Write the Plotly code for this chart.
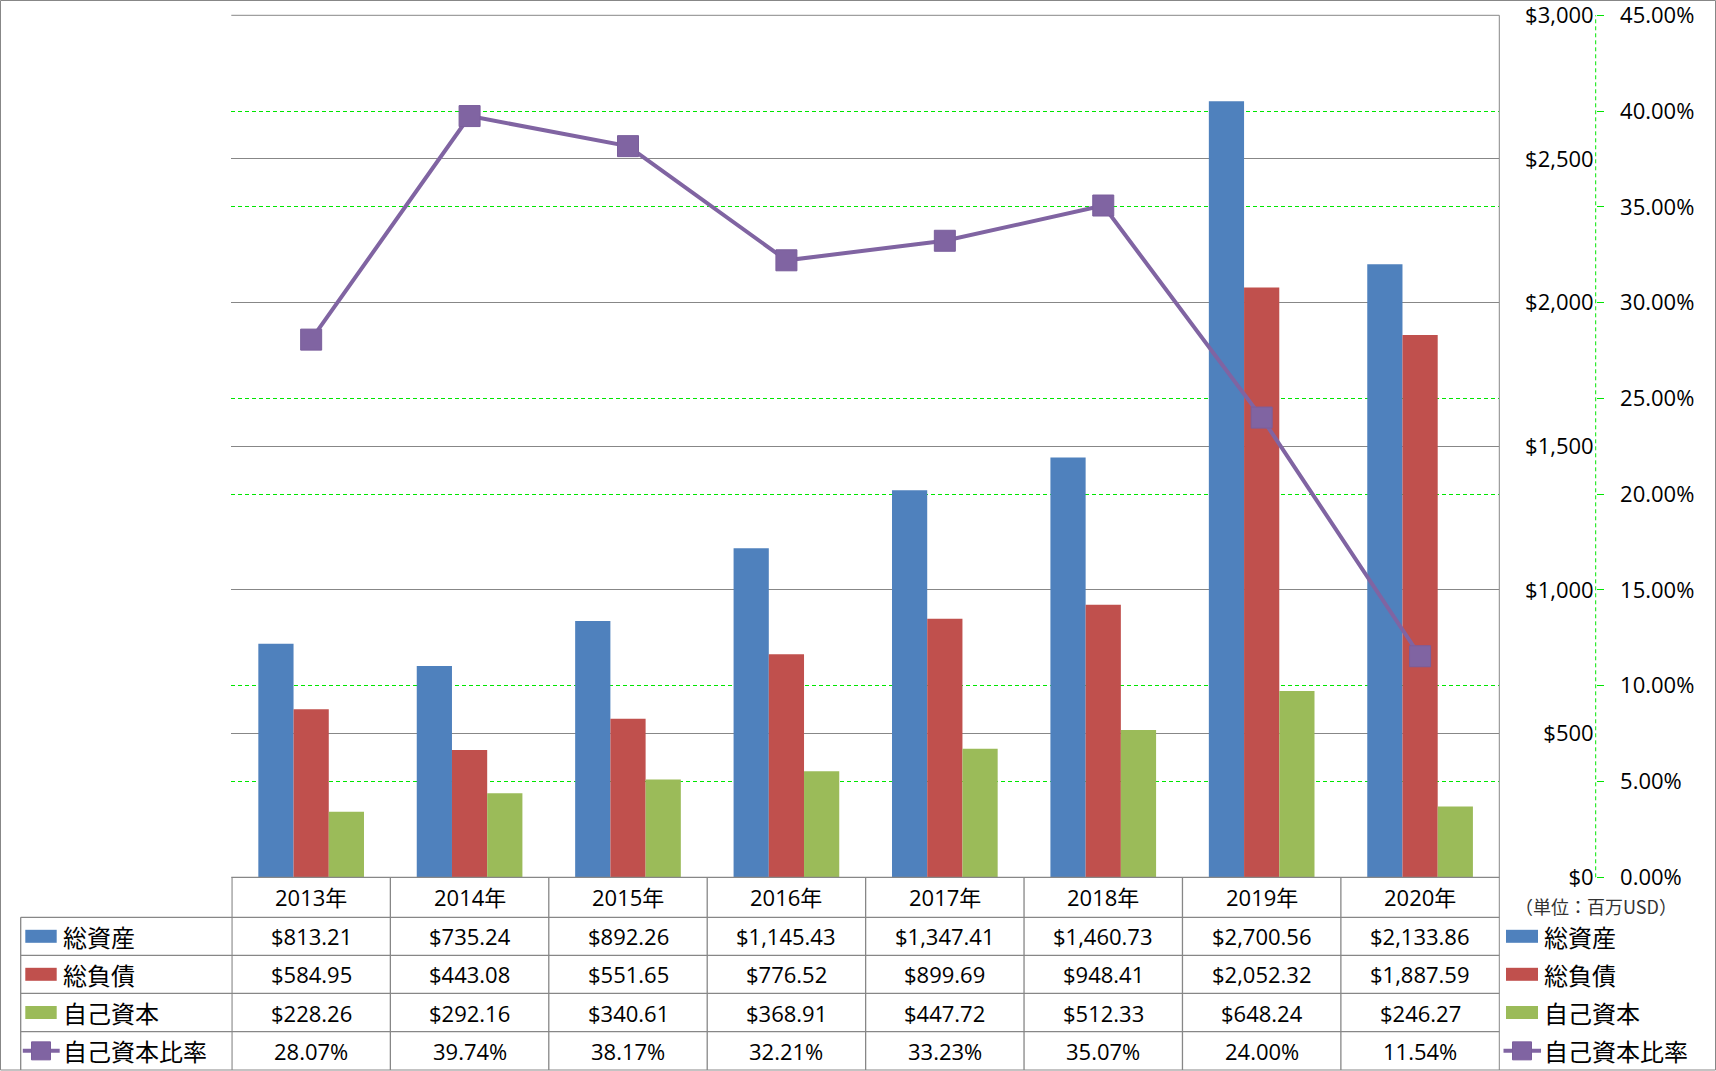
import plotly.graph_objects as go

# ---------------- data ----------------
years = ["2013年", "2014年", "2015年", "2016年", "2017年", "2018年", "2019年", "2020年"]
total_assets = [813.21, 735.24, 892.26, 1145.43, 1347.41, 1460.73, 2700.56, 2133.86]
total_liabilities = [584.95, 443.08, 551.65, 776.52, 899.69, 948.41, 2052.32, 1887.59]
equity = [228.26, 292.16, 340.61, 368.91, 447.72, 512.33, 648.24, 246.27]
equity_ratio = [28.07, 39.74, 38.17, 32.21, 33.23, 35.07, 24.00, 11.54]

name_assets = "総資産"
name_liab = "総負債"
name_equity = "自己資本"
name_ratio = "自己資本比率"
unit_note = "（単位：百万USD）"

# ---------------- style ----------------
W, H = 1716, 1071
C_BLUE, C_RED, C_GREEN, C_PURPLE = "#4F81BD", "#C0504D", "#9BBB59", "#8064A2"
GRAY = "#878787"
LIME = "#00E600"
LATIN = "Open Sans, Noto Sans CJK JP, sans-serif"
CJK = "Noto Sans CJK JP, sans-serif"


def px(x):
    return x / W


def py(y):
    return 1 - y / H


PLOT_L, PLOT_R, PLOT_T, PLOT_B = 231.3, 1499.3, 15.3, 877.3
AXIS_X = 1595.7
ROW_LINES = [877.3, 917.3, 955.3, 993.3, 1031.7, 1070.0]
row_centers = [(ROW_LINES[i] + ROW_LINES[i + 1]) / 2 for i in range(5)]
EPS = 1e-5

fig = go.Figure()

fig.add_trace(go.Bar(x=years, y=total_assets, name=name_assets, marker_color=C_BLUE,
                     marker_line_width=0, yaxis="y", showlegend=False))
fig.add_trace(go.Bar(x=years, y=total_liabilities, name=name_liab, marker_color=C_RED,
                     marker_line_width=0, yaxis="y", showlegend=False))
fig.add_trace(go.Bar(x=years, y=equity, name=name_equity, marker_color=C_GREEN,
                     marker_line_width=0, yaxis="y", showlegend=False))
fig.add_trace(go.Scatter(x=years, y=[v / 100 for v in equity_ratio], name=name_ratio,
                         mode="lines+markers", yaxis="y2", showlegend=False,
                         line=dict(color=C_PURPLE, width=4),
                         marker=dict(symbol="square", size=21, color=C_PURPLE,
                                     line=dict(color="#7A5E9C", width=1))))
# invisible helper trace so the gray-grid overlay axis is drawn above the green grid
fig.add_trace(go.Scatter(x=years[:1], y=[0], mode="markers", yaxis="y3",
                         marker=dict(opacity=0), hoverinfo="skip", showlegend=False))

fig.update_layout(
    width=W, height=H, autosize=False,
    margin=dict(l=0, r=0, t=0, b=0, pad=0, autoexpand=False),
    paper_bgcolor="white", plot_bgcolor="rgba(0,0,0,0)",
    barmode="group", bargap=0.333, bargroupgap=0,
    font=dict(family=LATIN, size=22, color="black"),
    xaxis=dict(domain=[px(PLOT_L), px(PLOT_R)], showticklabels=False, ticks="",
               showgrid=False, zeroline=False, showline=False, fixedrange=True,
               automargin=False),
    yaxis=dict(domain=[py(PLOT_B), py(PLOT_T)], range=[0, 3000 * (1 + EPS)], dtick=500,
               tickformat="$,.0f", side="left", anchor="free", position=px(AXIS_X),
               showgrid=False, zeroline=False, showline=False, ticks="",
               ticklabelstandoff=2, automargin=False, ticklabeloverflow="allow",
               tickfont=dict(family=LATIN, size=22, color="black")),
    yaxis2=dict(overlaying="y", range=[0, 0.45 * (1 + EPS)], dtick=0.05, tickformat=".2%",
                side="right", anchor="free", position=px(AXIS_X),
                showgrid=True, gridcolor=LIME, gridwidth=1, griddash="4px,3px",
                zeroline=False, showline=False, ticks="outside", ticklen=7,
                tickcolor=LIME, tickwidth=1, ticklabelstandoff=12, automargin=False,
                ticklabeloverflow="allow",
                tickfont=dict(family=LATIN, size=22, color="black")),
    yaxis3=dict(overlaying="y", range=[0, 3000 * (1 + EPS)], dtick=500, showticklabels=False,
                showgrid=True, gridcolor=GRAY, gridwidth=1, zeroline=False,
                showline=False, ticks="", anchor="x", side="left", automargin=False),
)

shapes = []
# outer chart border
shapes.append(dict(type="rect", xref="paper", yref="paper", x0=px(0.5), x1=px(W - 0.5),
                   y0=py(H - 1), y1=py(0.5), line=dict(color=GRAY, width=1)))
# top border of the plot area (top gridline)
shapes.append(dict(type="line", xref="paper", yref="y domain", x0=px(PLOT_L), x1=px(PLOT_R),
                   y0=1, y1=1, line=dict(color=GRAY, width=1), layer="below"))
# secondary (percent) axis line, dashed green
shapes.append(dict(type="line", xref="paper", yref="paper", x0=px(AXIS_X), x1=px(AXIS_X),
                   y0=py(PLOT_B), y1=py(PLOT_T), line=dict(color=LIME, width=1, dash="4px,3px")))
# plot right border extending through the table
shapes.append(dict(type="line", xref="paper", yref="paper", x0=px(PLOT_R), x1=px(PLOT_R),
                   y0=py(ROW_LINES[-1]), y1=py(PLOT_T), line=dict(color=GRAY, width=1)))
# table horizontal lines
shapes.append(dict(type="line", xref="paper", yref="paper", x0=px(PLOT_L), x1=px(PLOT_R),
                   y0=py(ROW_LINES[0]), y1=py(ROW_LINES[0]), line=dict(color=GRAY, width=1.3)))
for yl in ROW_LINES[1:5]:
    shapes.append(dict(type="line", xref="paper", yref="paper", x0=px(20.7), x1=px(PLOT_R),
                       y0=py(yl), y1=py(yl), line=dict(color=GRAY, width=1.3)))
# table left border
shapes.append(dict(type="line", xref="paper", yref="paper", x0=px(20.7), x1=px(20.7),
                   y0=py(ROW_LINES[-1]), y1=py(ROW_LINES[1]), line=dict(color=GRAY, width=1.3)))
# table column lines at category boundaries
for k in range(len(years)):
    shapes.append(dict(type="line", xref="x", yref="paper", x0=k - 0.5, x1=k - 0.5,
                       y0=py(ROW_LINES[-1]), y1=py(ROW_LINES[0]), line=dict(color=GRAY, width=1.3)))

annotations = []
# header years
for yr in years:
    annotations.append(dict(x=yr, xref="x", y=py(row_centers[0]), yref="paper",
                            text=yr, showarrow=False, xanchor="center", yanchor="middle",
                            font=dict(family=LATIN, size=22, color="black")))
# value rows
rows = [
    (name_assets, C_BLUE, [f"${v:,.2f}" for v in total_assets], "bar"),
    (name_liab, C_RED, [f"${v:,.2f}" for v in total_liabilities], "bar"),
    (name_equity, C_GREEN, [f"${v:,.2f}" for v in equity], "bar"),
    (name_ratio, C_PURPLE, [f"{v:.2f}%" for v in equity_ratio], "line"),
]
for r, (label, color, texts, kind) in enumerate(rows):
    yc = row_centers[r + 1]
    for yr, t in zip(years, texts):
        annotations.append(dict(x=yr, xref="x", y=py(yc), yref="paper", text=t,
                                showarrow=False, xanchor="center", yanchor="middle",
                                font=dict(family=LATIN, size=22, color="black")))
    # legend keys: in table (left) and at right side
    for kx0, kx1, lx in [(25.3, 56.7, 61.0), (1506.0, 1538.0, 1542.0)]:
        if kind == "bar":
            shapes.append(dict(type="rect", xref="paper", yref="paper", x0=px(kx0), x1=px(kx1),
                               y0=py(yc + 6.5), y1=py(yc - 6.5), fillcolor=color,
                               line=dict(width=0)))
        else:
            shapes.append(dict(type="line", xref="paper", yref="paper", x0=px(kx0 - 2.5),
                               x1=px(kx1 + 3), y0=py(yc), y1=py(yc),
                               line=dict(color=color, width=4)))
            cx = (kx0 + kx1) / 2
            shapes.append(dict(type="rect", xref="paper", yref="paper", x0=px(cx - 9.5),
                               x1=px(cx + 9.5), y0=py(yc + 9), y1=py(yc - 9), fillcolor=color,
                               line=dict(color="#7A5E9C", width=1)))
        annotations.append(dict(x=px(lx), xref="paper", y=py(yc), yref="paper", text=label,
                                showarrow=False, xanchor="left", yanchor="middle",
                                font=dict(family=CJK, size=24, color="black")))

# unit note
annotations.append(dict(x=px(1513), xref="paper", y=py(906), yref="paper", text=unit_note,
                        showarrow=False, xanchor="left", yanchor="middle",
                        font=dict(family=CJK, size=18, color="#333333")))

fig.update_layout(shapes=shapes, annotations=annotations)

fig.write_html("out.html",
               config={"displayModeBar": False, "responsive": False},
               post_script="document.body.style.margin='0';document.body.style.overflow='hidden';")
